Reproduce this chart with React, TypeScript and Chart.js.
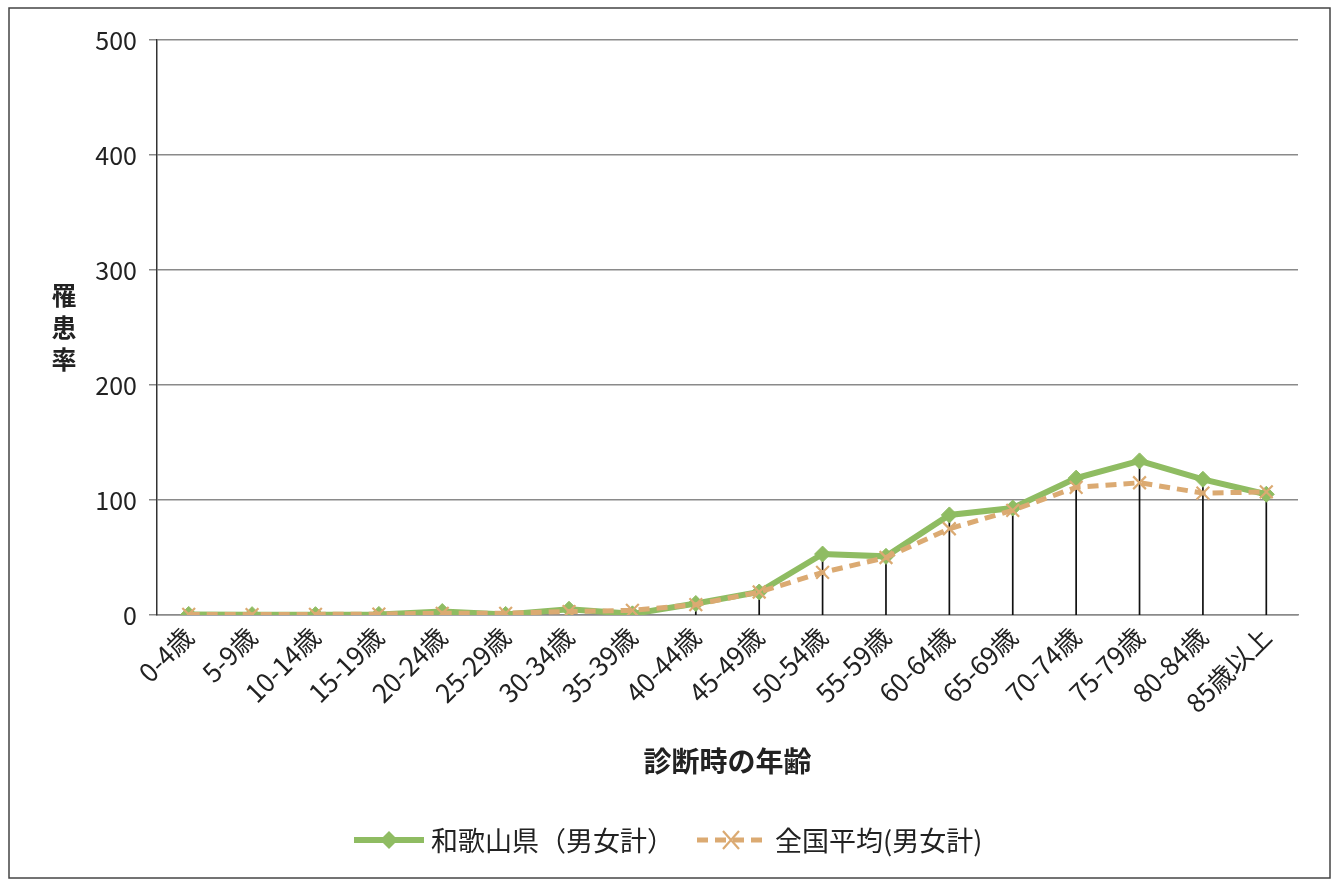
import React, { useEffect, useRef } from 'react';
import { Chart, registerables } from 'chart.js';

Chart.register(...registerables);

const categories = ['0-4歳', '5-9歳', '10-14歳', '15-19歳', '20-24歳', '25-29歳', '30-34歳', '35-39歳', '40-44歳', '45-49歳', '50-54歳', '55-59歳', '60-64歳', '65-69歳', '70-74歳', '75-79歳', '80-84歳', '85歳以上'];
const wakayama = [0.5, 0.3, 0.3, 0.5, 3, 0.5, 5, 1, 10, 20, 53, 51, 87, 93, 119, 134, 118, 105];
const zenkoku = [0.5, 0.3, 0.5, 0.8, 1.5, 1.5, 3, 4, 9, 20, 37, 50, 75, 91, 111, 115, 106, 107];
const seriesNames = ['和歌山県（男女計）', '全国平均(男女計)'];
const yTitle = '罹患率';
const xTitle = '診断時の年齢';
const yMin = 0;
const yMax = 500;
const yStep = 100;

const GREEN = 'rgb(143,188,98)';
const TAN = 'rgb(219,170,114)';
const FONT = '"Noto Sans CJK JP", "Noto Sans", sans-serif';
const TEXT = '#222';

const bgPlugin = {
  id: 'bg',
  beforeDraw(chart: any) {
    const { ctx, width, height } = chart;
    ctx.save();
    ctx.fillStyle = '#fff';
    ctx.fillRect(0, 0, width, height);
    ctx.restore();
  },
};

const dropLinePlugin = {
  id: 'dropLines',
  beforeDatasetsDraw(chart: any) {
    const { ctx, scales } = chart;
    const xs = scales.x;
    const ys = scales.y;
    ctx.save();
    ctx.strokeStyle = '#111';
    ctx.lineWidth = 1.7;
    categories.forEach((_, i) => {
      const v = Math.max(wakayama[i], zenkoku[i]);
      const x = xs.getPixelForValue(i);
      ctx.beginPath();
      ctx.moveTo(x, ys.getPixelForValue(v));
      ctx.lineTo(x, ys.getPixelForValue(0));
      ctx.stroke();
    });
    ctx.restore();
  },
};

const decorPlugin = {
  id: 'decor',
  afterDraw(chart: any) {
    const { ctx } = chart;
    ctx.save();
    // frame
    ctx.strokeStyle = '#444';
    ctx.lineWidth = 1.5;
    ctx.strokeRect(9, 8, 1321, 870);
    // y title stacked vertically
    ctx.fillStyle = TEXT;
    ctx.font = `bold 25px ${FONT}`;
    ctx.textAlign = 'center';
    ctx.textBaseline = 'middle';
    const chars = Array.from(yTitle);
    chars.forEach((c, i) => {
      ctx.fillText(c, 64, 295 + i * 32);
    });
    // legend
    const ly = 840;
    ctx.font = `27px ${FONT}`;
    ctx.textAlign = 'left';
    // series 1
    ctx.strokeStyle = GREEN;
    ctx.lineWidth = 6;
    ctx.beginPath();
    ctx.moveTo(354, ly);
    ctx.lineTo(424, ly);
    ctx.stroke();
    ctx.fillStyle = GREEN;
    ctx.beginPath();
    ctx.moveTo(389, ly - 9);
    ctx.lineTo(398, ly);
    ctx.lineTo(389, ly + 9);
    ctx.lineTo(380, ly);
    ctx.closePath();
    ctx.fill();
    ctx.fillStyle = TEXT;
    ctx.fillText(seriesNames[0], 431, ly + 1);
    // series 2
    ctx.strokeStyle = TAN;
    ctx.lineWidth = 5;
    ctx.setLineDash([11, 7]);
    ctx.beginPath();
    ctx.moveTo(697, ly);
    ctx.lineTo(766, ly);
    ctx.stroke();
    ctx.setLineDash([]);
    ctx.lineWidth = 2.2;
    ctx.beginPath();
    ctx.moveTo(723, ly - 9);
    ctx.lineTo(739, ly + 9);
    ctx.moveTo(739, ly - 9);
    ctx.lineTo(723, ly + 9);
    ctx.stroke();
    ctx.fillStyle = TEXT;
    ctx.fillText(seriesNames[1], 775, ly + 1);
    ctx.restore();
  },
};

export default function App() {
  const ref = useRef<HTMLCanvasElement>(null);
  useEffect(() => {
    if (!ref.current) return;
    const chart = new Chart(ref.current, {
      type: 'line',
      data: {
        labels: categories,
        datasets: [
          {
            label: seriesNames[0],
            data: wakayama,
            borderColor: GREEN,
            backgroundColor: GREEN,
            borderWidth: 6,
            pointStyle: 'rectRot',
            pointRadius: 8,
            pointBackgroundColor: GREEN,
            pointBorderColor: GREEN,
            pointBorderWidth: 1,
            tension: 0,
            order: 1,
          },
          {
            label: seriesNames[1],
            data: zenkoku,
            borderColor: TAN,
            backgroundColor: TAN,
            borderWidth: 5,
            borderDash: [11, 7],
            pointStyle: 'crossRot',
            pointRadius: 9,
            pointBorderColor: TAN,
            pointBorderWidth: 2.2,
            tension: 0,
            order: 0,
          },
        ],
      },
      options: {
        animation: false,
        responsive: false,
        layout: { padding: { left: 0, right: 38, top: 40, bottom: 92 } },
        plugins: {
          legend: { display: false },
          tooltip: { enabled: false },
        },
        scales: {
          x: {
            type: 'category',
            offset: true,
            grid: { display: false, drawTicks: false },
            border: { display: true, color: '#8a8a8a', width: 1.5 },
            ticks: {
              autoSkip: false,
              maxRotation: 45,
              minRotation: 45,
              padding: 6,
              color: TEXT,
              font: { family: FONT, size: 26 },
            },
            title: {
              display: true,
              text: xTitle,
              color: TEXT,
              font: { family: FONT, size: 28, weight: 'bold' },
              padding: { top: 0, bottom: 12 },
            },
            afterFit(scale: any) {
              scale.height = 175;
            },
          },
          y: {
            min: yMin,
            max: yMax,
            ticks: {
              stepSize: yStep,
              padding: 12,
              color: TEXT,
              font: { family: FONT, size: 25 },
            },
            grid: {
              color: '#8a8a8a',
              lineWidth: 1.5,
              tickLength: 8,
              drawTicks: true,
              tickColor: '#8a8a8a',
            },
            border: { display: true, color: '#333', width: 1.5 },
            afterFit(scale: any) {
              scale.width = 157;
            },
          },
        },
      },
      plugins: [bgPlugin, dropLinePlugin, decorPlugin],
    } as any);
    return () => chart.destroy();
  }, []);
  return (
    <div style={{ position: 'absolute', left: 0, top: 0, width: 1336, height: 882 }}>
      <canvas ref={ref} width={1336} height={882} style={{ width: 1336, height: 882, display: 'block' }} />
    </div>
  );
}
